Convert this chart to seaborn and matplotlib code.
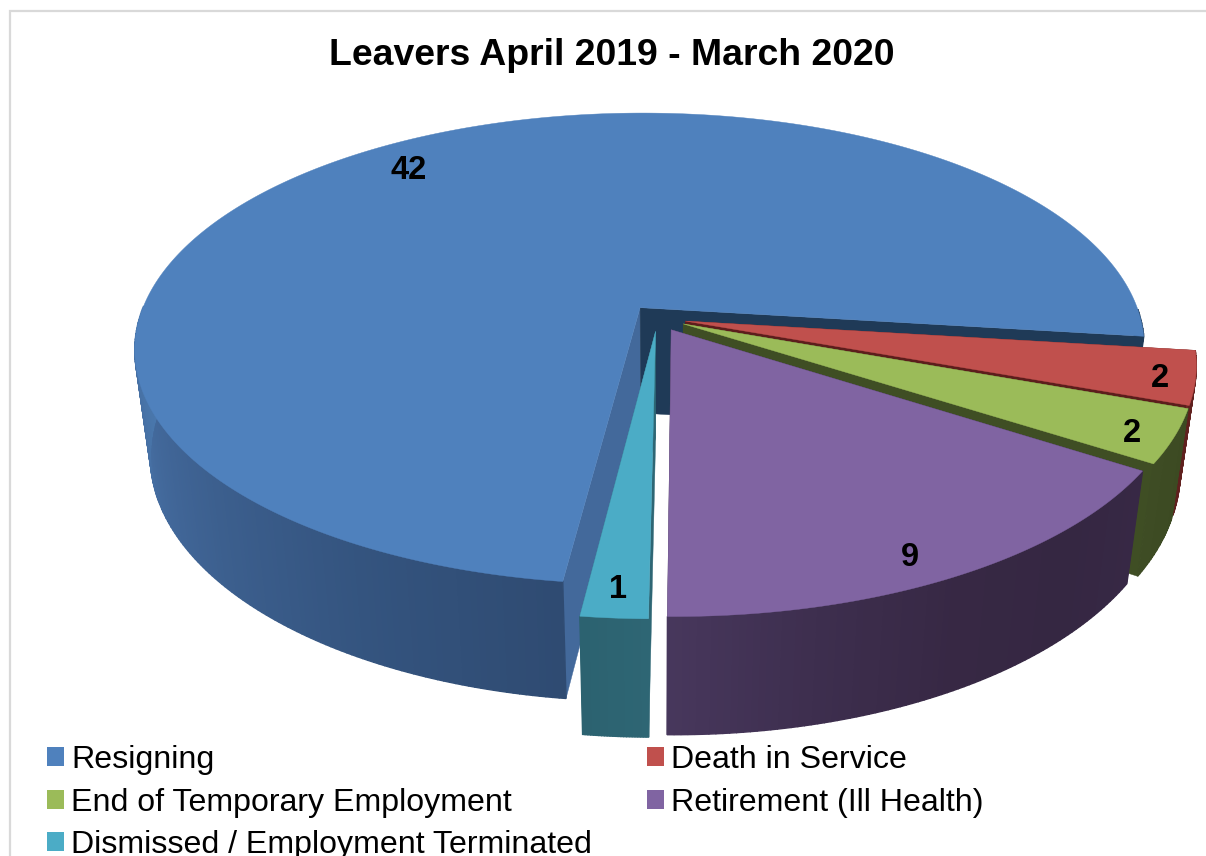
import numpy as np
import matplotlib
matplotlib.use("Agg")
import matplotlib.pyplot as plt
from matplotlib.patches import Patch
import seaborn as sns

categories = ["Resigning", "Death in Service", "End of Temporary Employment",
              "Retirement (Ill Health)", "Dismissed / Employment Terminated"]
values = [42, 2, 2, 9, 1]
title = "Leavers April 2019 - March 2020"

top_colors = ["#4f81bd", "#c0504d", "#9bbb59", "#8064a2", "#4bacc6"]
# wall shades listed in drawing direction (clockwise along each slice)
wall_colors = [["#2f4b72", "#34547f", "#3c5f8e", "#446b9e", "#4a78ad"],
               ["#6e2624", "#5f201e"],
               ["#3c4a22", "#3e4c24"],
               ["#372845", "#352742", "#372844", "#3d2e4e", "#47375c"],
               ["#2e6674", "#2c6270"]]
back_wall_color = "#1f3a57"
cut_colors = [("#43699b", back_wall_color), ("#6a2322", "#5c1d1c"), ("#4d5f2c", "#3f4e24"),
              ("#3a2b48", "#3a2b48"), ("#2e6674", "#2e6674")]
label_xy = [(409, 170), (1160, 378), (1132, 433), (910, 558), (618, 590)]

sns.set_theme(style="white")
plt.rcParams["font.family"] = ["Liberation Sans", "DejaVu Sans"]

# perspective model of the tilted disc
CX, CY, A, B, H = 657.5, 318.0, 501.0, 232.0, 109.0
K, M, EXPLODE = 0.175, 0.03, 0.057
START = np.deg2rad(262.95)


def project(u, v, z):
    s = 1.0 / (1.0 + K * v + M * z)
    return CX + A * u * s, CY + (-B * v + H * z) * s


fig = plt.figure(figsize=(12.06, 8.56), dpi=100, facecolor="white")
ax = fig.add_axes([0, 0, 1, 1])
ax.set_xlim(0, 1206)
ax.set_ylim(856, 0)
ax.axis("off")

# chart frame, running off the right and bottom of the canvas
ax.plot([10, 10, 1206], [856, 11, 11], color="#d9d9d9", lw=1.6, solid_joinstyle="miter")

sweeps = np.deg2rad(np.array(values) / sum(values) * 360.0)
edge = START
for i, sweep in enumerate(sweeps):
    a0, a1 = edge, edge - sweep       # slices run clockwise
    edge = a1
    mid = (a0 + a1) / 2
    ou, ov = EXPLODE * np.cos(mid), EXPLODE * np.sin(mid)
    n = max(24, int(np.degrees(sweep) * 1.5))
    th = np.linspace(a0, a1, n + 1)
    ru, rv = ou + np.cos(th), ov + np.sin(th)

    # the two cut faces
    for end, col in zip((0, -1), cut_colors[i]):
        pts = [project(ou, ov, 0), project(ru[end], rv[end], 0),
               project(ru[end], rv[end], 1), project(ou, ov, 1)]
        ax.fill(*zip(*pts), color=col, lw=0.3, zorder=i * 3 + 1)

    # outer wall, shaded along the arc; the far right of the first slice stays in shadow
    shades = sns.blend_palette(wall_colors[i], n)
    vis = np.where(np.sin(th[:-1]) < 0.0)[0]
    lit = vis[np.cos(th[vis]) < 0.3] if i == 0 else vis
    for j in vis:
        pts = [project(ru[j], rv[j], 0), project(ru[j + 1], rv[j + 1], 0),
               project(ru[j + 1], rv[j + 1], 1), project(ru[j], rv[j], 1)]
        if j in lit:
            rank = np.searchsorted(lit, j)
            col = shades[int(rank / max(len(lit) - 1, 1) * (n - 1))]
        else:
            col = back_wall_color
        ax.fill(*zip(*pts), color=col, lw=1.0, zorder=i * 3 + 2)

    # top face
    px, py = project(np.r_[ou, ru], np.r_[ov, rv], 0)
    ax.fill(px, py, color=top_colors[i], lw=0.3, zorder=i * 3 + 3)

for val, (lx, ly) in zip(values, label_xy):
    ax.text(lx, ly, str(val), ha="center", va="center", fontsize=23.5, fontweight="bold",
            color="black", zorder=30)

ax.text(612, 55, title, ha="center", va="center", fontsize=26.9, fontweight="bold", color="black")

# legend reads across two columns
handles = [Patch(facecolor=c, edgecolor="none") for c in top_colors]
order = [0, 2, 4, 1, 3]
fs = 23.1
px_per_em = fs * 100 / 72
ax.legend([handles[j] for j in order], [categories[j] for j in order], ncol=2,
          loc="upper left", bbox_to_anchor=(47, 745), bbox_transform=ax.transData,
          frameon=False, fontsize=fs, borderpad=0, borderaxespad=0,
          handlelength=17 / px_per_em, handleheight=17 / px_per_em,
          handletextpad=7 / px_per_em, columnspacing=55 / px_per_em,
          labelspacing=0.39, labelcolor="black")

fig.savefig("out.png", dpi=100)
